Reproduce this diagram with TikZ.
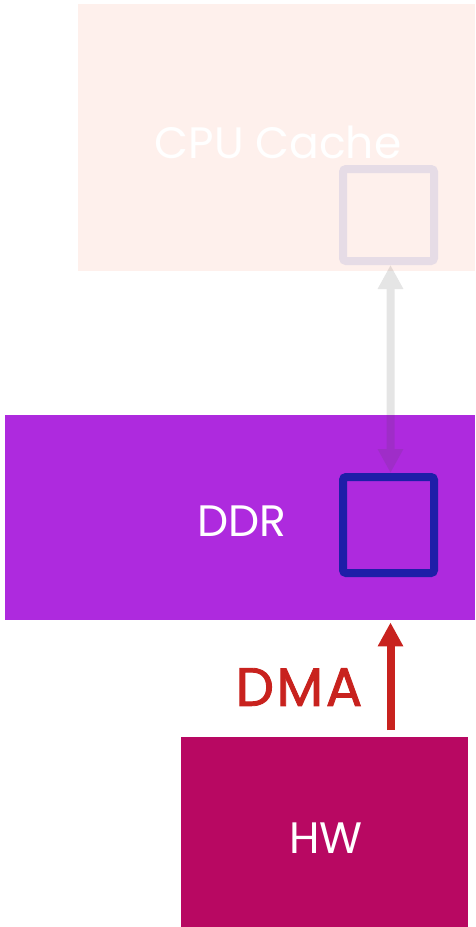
\documentclass[tikz,border=0pt]{standalone}
\usepackage{fontspec}
\setmainfont{Poppins}
\usetikzlibrary{arrows.meta}
\definecolor{cachefill}{HTML}{FEF0EC}
\definecolor{cacheslot}{HTML}{E6DCE6}
\definecolor{ddrfill}{HTML}{AE2ADE}
\definecolor{ddrslot}{HTML}{1E1EA8}
\definecolor{hwfill}{HTML}{B80862}
\definecolor{dmared}{HTML}{C8221E}
\definecolor{linkgray}{HTML}{464646}
\tikzset{
  block/.style={fill=#1, draw=none, inner sep=0pt, anchor=north west},
  slot/.style={draw=#1, line width=8pt, rounded corners=3pt, minimum width=91pt, inner sep=0pt},
  caption/.style={text=white, font=\fontsize{44}{44}\selectfont, inner sep=0pt},
}
\begin{document}
\begin{tikzpicture}[x=1pt,y=1pt]
\useasboundingbox (0,0) rectangle (475,-927);
% memory blocks
\node[block=cachefill, minimum width=397pt, minimum height=267pt] (cache) at (78,-4) {};
\node[block=ddrfill, minimum width=470pt, minimum height=205pt] (ddr) at (5,-415) {};
\node[block=hwfill, minimum width=287pt, minimum height=190pt] (hw) at (181,-737) {};
% labels
\node[caption] (cachelabel) at (278,-142) {CPU Cache};
\node[caption] (ddrlabel) at (242,-521) {DDR};
\node[caption] (hwlabel) at (326,-838) {HW};
% cache line slots
\node[slot=cacheslot, minimum height=92pt] (cacheslotbox) at (388.5,-215) {};
\node[slot=ddrslot, minimum height=96pt] (ddrslotbox) at (388.5,-525) {};
% coherency link between cache and DDR
\begin{scope}[transparency group, opacity=0.14]
\draw[linkgray, line width=8pt, {Triangle[width=24pt,length=24pt]}-{Triangle[width=24pt,length=24pt]}]
  ([xshift=2pt]cacheslotbox.south) -- ([xshift=2pt]ddrslotbox.north);
\end{scope}
% DMA transfer from hardware into DDR
\coordinate (dmastart) at ([xshift=2pt,yshift=7pt]hw.north -| ddrslotbox);
\draw[dmared, line width=8pt, -{Triangle[width=24pt,length=24pt]}]
  (dmastart) -- ([yshift=-2pt]dmastart |- ddr.south);
\node[text=dmared, font=\fontsize{54}{54}\selectfont, inner sep=0pt] (dmalabel) at (299,-687) {\addfontfeatures{LetterSpace=5,FakeBold=1.6}DMA};
\end{tikzpicture}
\end{document}
